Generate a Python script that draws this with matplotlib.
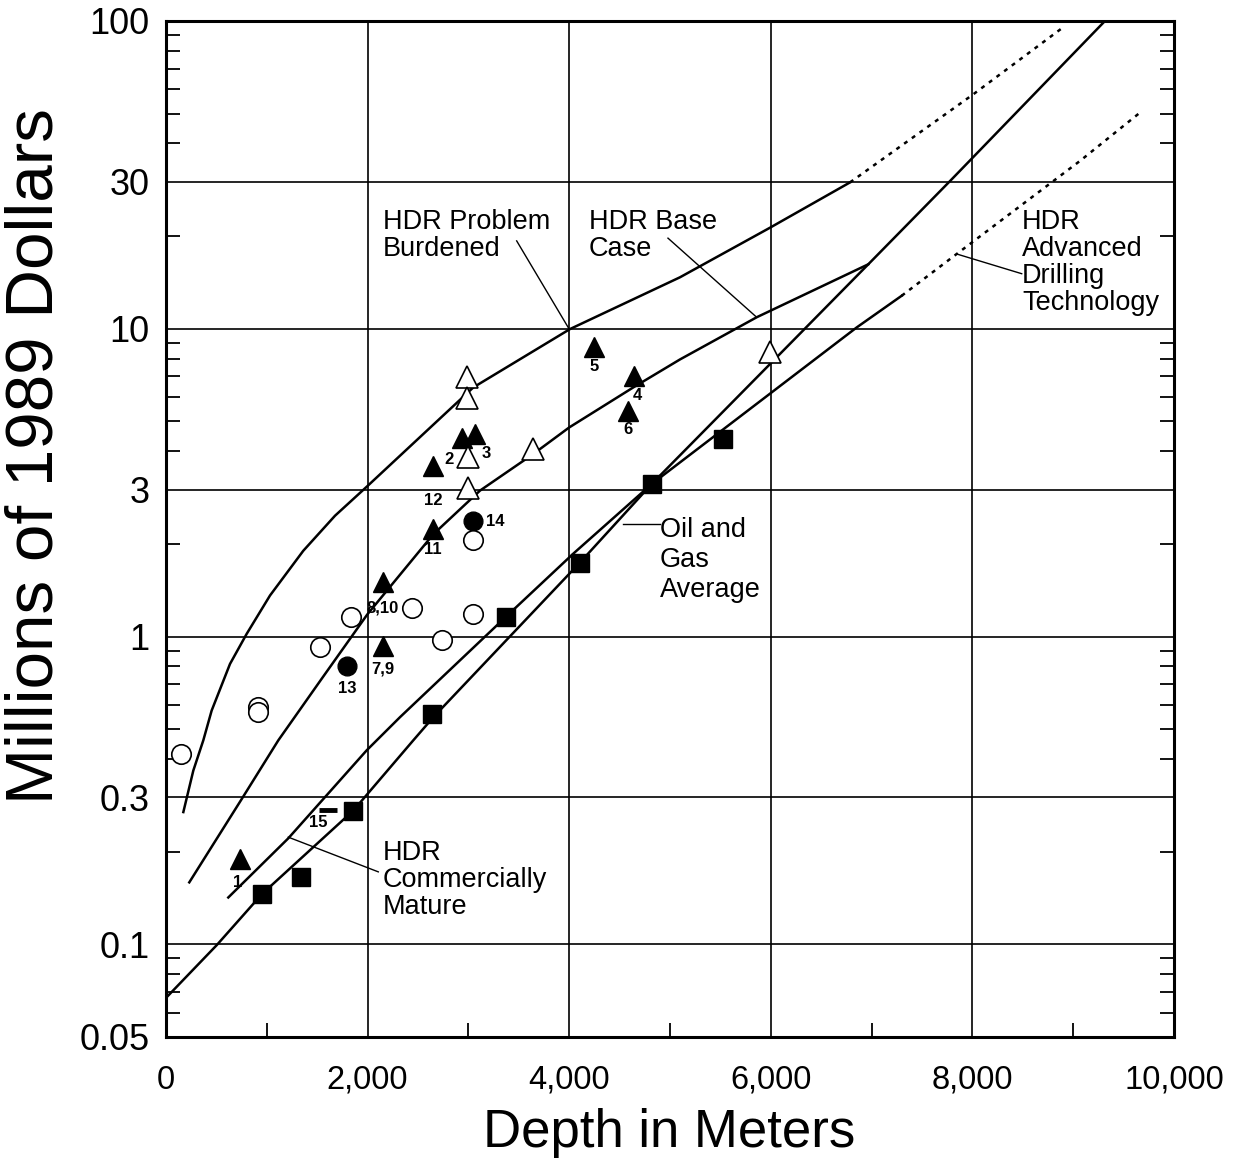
import matplotlib
matplotlib.use("Agg")
import matplotlib.pyplot as plt
from matplotlib.ticker import FixedLocator, NullFormatter

plt.rcParams['font.family'] = ['Liberation Sans', 'DejaVu Sans']

# ---- cost curves (depth in m, millions of 1989 dollars) ----
burdened_x = [172, 271, 370, 453, 635, 800, 1032, 1362, 1677, 1997, 3049, 4008, 5099, 5992, 6786]
burdened_y = [0.269, 0.367, 0.46, 0.575, 0.815, 1.02, 1.36, 1.90, 2.47, 3.08, 6.45, 9.98, 14.7, 21.3, 29.9]
burdened_dot_x = [6786, 8009, 8919]
burdened_dot_y = [29.9, 57.8, 96.4]

base_x = [231, 741, 1114, 1544, 1997, 2652, 3115, 3644, 4000, 4636, 5099, 5860, 6967]
base_y = [0.159, 0.293, 0.46, 0.729, 1.18, 2.15, 2.98, 3.92, 4.78, 6.45, 7.95, 10.9, 16.2]

oil_x = [0, 503, 955, 1858, 2453, 2652, 4107, 4818, 5992, 6967, 7778, 7993, 9315]
oil_y = [0.067, 0.0994, 0.146, 0.272, 0.46, 0.547, 1.74, 3.13, 7.68, 16.2, 30.2, 35.7, 100]

mature_x = [618, 1213, 1991, 2321, 3373, 4041, 4818, 6852, 7298]
mature_y = [0.142, 0.221, 0.427, 0.547, 1.16, 1.86, 3.13, 10.1, 12.8]
advanced_dot_x = [7298, 7844, 9067, 9663]
advanced_dot_y = [12.8, 17.5, 35.1, 50.4]

# ---- data points ----
sq_x = [955, 1336, 1858, 2636, 3373, 4107, 4818, 5529]
sq_y = [0.146, 0.165, 0.272, 0.561, 1.155, 1.74, 3.13, 4.38]

tri_x = [734, 2933, 3065, 4643, 4246, 4580, 2156, 2156, 2646, 2646]
tri_y = [0.19, 4.42, 4.55, 7.04, 8.74, 5.42, 0.935, 1.50, 2.24, 3.59]

dot_x = [1799, 3042]
dot_y = [0.805, 2.38]

ocirc_x = [149, 916, 916, 1528, 1832, 2437, 2741, 3042, 3042]
ocirc_y = [0.414, 0.589, 0.567, 0.928, 1.155, 1.24, 0.978, 1.18, 2.06]

otri_x = [2989, 2989, 2999, 2999, 3644, 5992]
otri_y = [6.95, 5.96, 3.84, 3.04, 4.07, 8.38]

dash_x = [1604]
dash_y = [0.274]

pt_labels = ['1', '12', '2', '3', '11', '8,10', '7,9', '13', '14', '5', '4', '6', '15']
pt_label_x = [714, 2649, 2808, 3175, 2649, 2153, 2153, 1796, 3264, 4246, 4673, 4583, 1508]
pt_label_y = [0.159, 2.76, 3.76, 3.93, 1.92, 1.24, 0.787, 0.678, 2.36, 7.53, 6.06, 4.70, 0.249]

yticks = [0.05, 0.1, 0.3, 1, 3, 10, 30, 100]
ytick_labels = ['0.05', '0.1', '0.3', '1', '3', '10', '30', '100']
xticks = [0, 2000, 4000, 6000, 8000, 10000]
xtick_labels = ['0', '2,000', '4,000', '6,000', '8,000', '10,000']

fig = plt.figure(figsize=(12.39, 11.62), dpi=100)
ax = fig.add_axes([166 / 1239, 1 - 1037 / 1162, 1008 / 1239, 1016 / 1162])
ax.set_yscale('log')
ax.set_xlim(0, 10000)
ax.set_ylim(0.05, 100)

lw = 1.8
dots = (0, (1.6, 2.2))
ax.plot(burdened_x, burdened_y, color='black', lw=lw)
ax.plot(burdened_dot_x, burdened_dot_y, color='black', lw=lw, ls=dots)
ax.plot(base_x, base_y, color='black', lw=lw)
ax.plot(oil_x, oil_y, color='black', lw=lw)
ax.plot(mature_x, mature_y, color='black', lw=lw)
ax.plot(advanced_dot_x, advanced_dot_y, color='black', lw=lw, ls=dots)

ax.plot(sq_x, sq_y, 's', color='black', ms=13, zorder=5)
ax.plot(tri_x, tri_y, '^', color='black', ms=15, zorder=5)
ax.plot(dot_x, dot_y, 'o', color='black', ms=13.5, zorder=5)
ax.plot(ocirc_x, ocirc_y, 'o', mfc='white', mec='black', mew=1.2, ms=14, zorder=5)
ax.plot(otri_x, otri_y, '^', mfc='white', mec='black', mew=1.2, ms=16, zorder=5)
ax.plot(dash_x, dash_y, '_', color='black', ms=13, mew=3.5, zorder=5)

for s, x, y in zip(pt_labels, pt_label_x, pt_label_y):
    ax.text(x, y, s, fontsize=12, fontweight='bold', ha='center', va='center', zorder=6)

# curve labels and leader lines
fs = 19.5
ax.text(2153, 24.5, 'HDR Problem\nBurdened', fontsize=fs, ha='left', va='top', linespacing=1.05)
ax.plot([3479, 3998], [19.3, 10.0], color='black', lw=1.0)
ax.text(4196, 24.5, 'HDR Base\nCase', fontsize=fs, ha='left', va='top', linespacing=1.05)
ax.plot([4980, 5860], [19.7, 10.9], color='black', lw=1.0)
ax.text(8492, 24.5, 'HDR\nAdvanced\nDrilling\nTechnology', fontsize=fs, ha='left', va='top',
        linespacing=1.05)
ax.plot([7844, 8489], [17.5, 15.1], color='black', lw=1.0)
ax.text(4901, 2.45, 'Oil and\nGas\nAverage', fontsize=fs, ha='left', va='top', linespacing=1.2)
ax.plot([4537, 4901], [2.32, 2.32], color='black', lw=1.0)
ax.text(2153, 0.218, 'HDR\nCommercially\nMature', fontsize=fs, ha='left', va='top', linespacing=1.05)
ax.plot([1213, 2106], [0.223, 0.172], color='black', lw=1.0)

# axes, ticks, grid
ax.yaxis.set_major_locator(FixedLocator(yticks))
ax.set_yticklabels(ytick_labels)
ax.yaxis.set_minor_locator(FixedLocator(
    [m * 10.0 ** e for e in range(-2, 2) for m in range(2, 10)]))
ax.yaxis.set_minor_formatter(NullFormatter())
ax.set_xticks(xticks)
ax.set_xticklabels(xtick_labels)
ax.set_xticks(range(1000, 10000, 2000), minor=True)

ax.grid(True, which='major', color='black', lw=1.2)
ax.tick_params(axis='y', which='both', direction='in', left=True, right=True)
ax.tick_params(axis='y', which='minor', length=10, width=1.3)
ax.tick_params(axis='y', which='major', length=0, labelsize=26, pad=12)
ax.tick_params(axis='x', which='both', direction='in', bottom=True, top=False)
ax.tick_params(axis='x', which='minor', length=10, width=1.3)
ax.tick_params(axis='x', which='major', length=0, labelsize=23.5, pad=20)
for sp in ax.spines.values():
    sp.set_linewidth(2.2)

ax.set_xlabel('Depth in Meters', fontsize=38)
ax.xaxis.set_label_coords(0.499, -0.0699)
fig.text(36 / 1239, 1 - 456 / 1162, 'Millions of 1989 Dollars', fontsize=48.5,
         rotation=90, ha='center', va='center')

fig.savefig('out.png', dpi=100)
